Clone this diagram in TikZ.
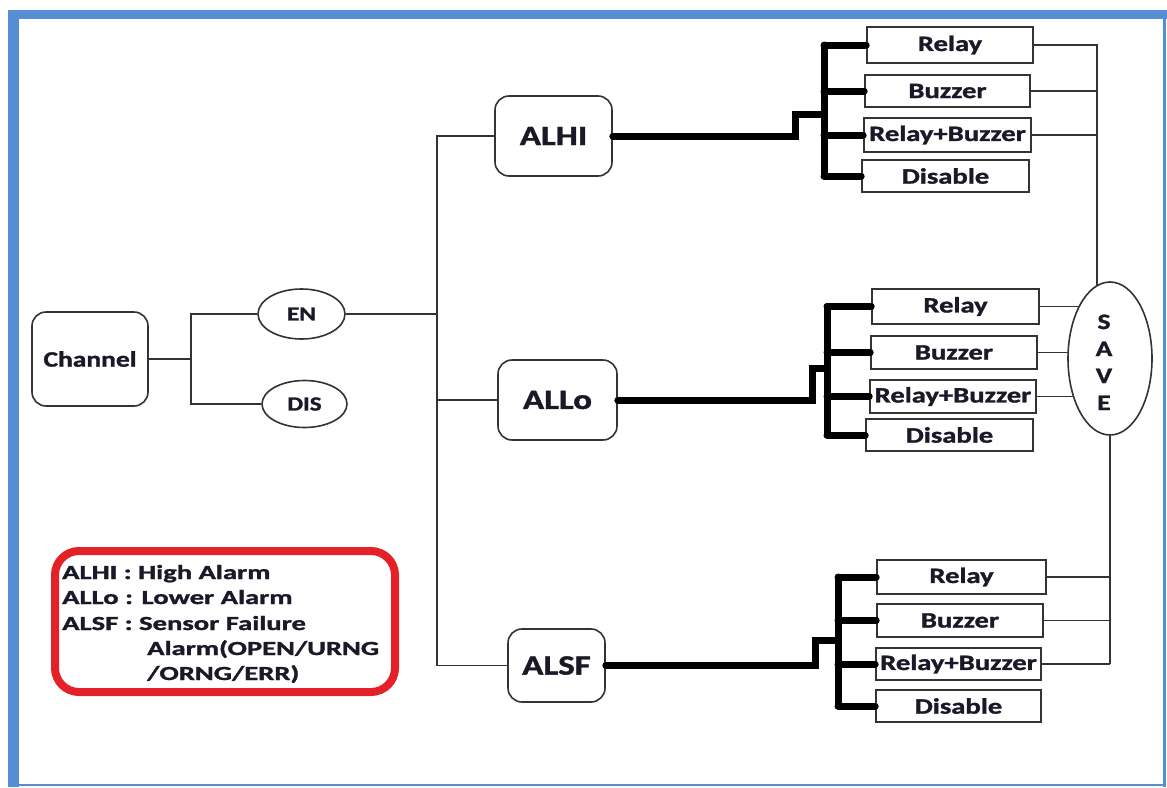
\documentclass[tikz,border=0pt]{standalone}
\usepackage{fontspec}
\setmainfont{Carlito}[BoldFeatures={FakeBold=1.2}]
\usepackage{graphicx}
\usetikzlibrary{shapes.geometric,backgrounds}
\definecolor{frameblue}{RGB}{85,142,213}
\definecolor{legred}{RGB}{228,32,40}
\definecolor{ln}{RGB}{51,51,51}
\definecolor{txt}{RGB}{25,25,40}
\newcommand{\wt}[2][1.25]{\scalebox{#1}[1]{#2}}
\begin{document}
\begin{tikzpicture}[x=1pt,y=-1pt,
  rbox/.style={draw=ln, line width=1.6pt, rounded corners=14pt, fill=white, inner sep=0pt, font=\fontsize{22}{26}\selectfont\bfseries, text=txt},
  bigtxt/.style={font=\fontsize{28}{32}\selectfont\bfseries},
  obox/.style={draw=ln, line width=1.6pt, rectangle, fill=white, inner sep=0pt, font=\fontsize{22}{26}\selectfont\bfseries, text=txt},
  oval/.style={draw=ln, line width=1.6pt, ellipse, fill=white, inner sep=0pt, font=\fontsize{20}{24}\selectfont\bfseries, text=txt},
  conn/.style={ln, line width=1.5pt},
  heavy/.style={black, line width=7pt, line cap=round, line join=miter},
  legtxt/.style={inner sep=0pt, font=\fontsize{20}{24}\selectfont\bfseries, text=txt, anchor=base west}
]
\useasboundingbox (0,0) rectangle (1167,787);
\begin{scope}[on background layer]
  \fill[white] (0,0) rectangle (1167,787);
\end{scope}

% left part
\node[rbox, minimum width=116pt, minimum height=94pt] (ch) at (90,359) {\wt{Channel}};
\node[oval, minimum width=87pt, minimum height=50pt] (en) at (301.5,314) {\wt{EN}};
\node[oval, minimum width=85pt, minimum height=47pt] (dis) at (304.5,404) {\wt{DIS}};

\node[rbox, bigtxt, minimum width=117pt, minimum height=80pt] (alhi) at (553.5,136) {\wt{ALHI}};
\node[rbox, bigtxt, minimum width=119pt, minimum height=80pt] (allo) at (557.5,400) {\wt{ALLo}};
\node[rbox, bigtxt, minimum width=97pt, minimum height=73pt] (alsf) at (556.5,665.5) {\wt{ALSF}};

% option boxes, group 1
\node[obox, minimum width=166pt, minimum height=36pt] (r1) at (950,45) {\wt[1.3]{Relay}};
\node[obox, minimum width=165pt, minimum height=32pt] (b1) at (947.5,91) {\wt[1.3]{Buzzer}};
\node[obox, minimum width=167pt, minimum height=34pt] (rb1) at (947.5,135) {\wt[1.3]{Relay+Buzzer}};
\node[obox, minimum width=167pt, minimum height=32pt] (d1) at (945.5,176) {\wt[1.3]{Disable}};
% group 2
\node[obox, minimum width=167pt, minimum height=35pt] (r2) at (955.5,306.5) {\wt[1.3]{Relay}};
\node[obox, minimum width=166pt, minimum height=33pt] (b2) at (954,352.5) {\wt[1.3]{Buzzer}};
\node[obox, minimum width=166pt, minimum height=33pt] (rb2) at (953,396.5) {\wt[1.3]{Relay+Buzzer}};
\node[obox, minimum width=167pt, minimum height=32pt] (d2) at (949.5,435) {\wt[1.3]{Disable}};
% group 3
\node[obox, minimum width=169pt, minimum height=34pt] (r3) at (961.5,577) {\wt[1.3]{Relay}};
\node[obox, minimum width=166pt, minimum height=33pt] (b3) at (960,620.5) {\wt[1.3]{Buzzer}};
\node[obox, minimum width=165pt, minimum height=32pt] (rb3) at (958.5,664) {\wt[1.3]{Relay+Buzzer}};
\node[obox, minimum width=165pt, minimum height=32pt] (d3) at (958.5,706) {\wt[1.3]{Disable}};

% SAVE
\node[oval, font=\fontsize{22}{27}\selectfont\bfseries, align=center, minimum width=84pt, minimum height=153pt] (save) at (1110,358.5)
  {\hspace*{-12pt}\rule{0pt}{22pt}\wt{S}\\\hspace*{-12pt}\wt{A}\\\hspace*{-12pt}\wt{V}\\\hspace*{-12pt}\wt{E}};

% thin connectors, left
\coordinate (s1) at (191,359);
\draw[conn] (ch.east) -- (s1);
\draw[conn] (en.west) -| (s1) |- (dis.west);
\coordinate (tk) at (437,665.5);
\draw[conn] (alhi.west) -| (tk) -- (alsf.west);
\draw[conn] (en.east) -- (en.east -| tk);
\draw[conn] (allo.west) -- (allo.west -| tk);

% heavy connectors
\coordinate (j1) at (795,114); \coordinate (k1) at (824,114);
\draw[heavy] (alhi.east) -| (j1) -- (k1);
\draw[heavy] (r1.west -| k1) -- (d1.west -| k1);
\foreach \n in {r1,b1,rb1,d1} \draw[heavy] (\n.west -| k1) -- (\n.west);

\coordinate (j2) at (812,368); \coordinate (k2) at (827,368);
\draw[heavy] (allo.east) -| (j2) -- (k2);
\draw[heavy] (r2.west -| k2) -- (d2.west -| k2);
\foreach \n in {r2,b2,rb2,d2} \draw[heavy] (\n.west -| k2) -- (\n.west);

\coordinate (j3) at (815,640); \coordinate (k3) at (838,640);
\draw[heavy] (alsf.east) -| (j3) -- (k3);
\draw[heavy] (r3.west -| k3) -- (d3.west -| k3);
\foreach \n in {r3,b3,rb3,d3} \draw[heavy] (\n.west -| k3) -- (\n.west);

% right side connectors to SAVE
\draw[conn] (r1.east) -| (save.100);
\draw[conn] (b1.east) -- (b1.east -| save.100);
\draw[conn] (rb1.east) -- (rb1.east -| save.100);
\begin{scope}[on background layer]
  \draw[conn] (r2.east) -- (r2.east -| save.center);
  \draw[conn] (b2.east) -- (b2.east -| save.center);
  \draw[conn] (rb2.east) -- (rb2.east -| save.center);
\end{scope}
\draw[conn] (save.south) -- (save.south |- rb3.east);
\draw[conn] (r3.east) -- (r3.east -| save.south);
\draw[conn] (b3.east) -- (b3.east -| save.south);
\draw[conn] (rb3.east) -- (rb3.east -| save.south);

% legend
\node[draw=legred, line width=8pt, rounded corners=24pt, minimum width=340pt, minimum height=141pt, inner sep=0pt] (legend) at (225,621.5) {};
\node[legtxt] (l1) at (62,579) {\wt[1.43]{ALHI : High Alarm}};
\node[legtxt] (l2) at (62,604) {\wt[1.43]{ALLo : Lower Alarm}};
\node[legtxt] (l3) at (62,630) {\wt[1.43]{ALSF : Sensor Failure}};
\node[legtxt] (l4) at (147,655) {\wt[1.43]{Alarm(OPEN/URNG}};
\node[legtxt] (l5) at (147,680) {\wt[1.43]{/ORNG/ERR)}};

% blue frame
\fill[frameblue] (8,10) rectangle (1167,19);
\fill[frameblue] (8,10) rectangle (19,787);
\fill[frameblue] (1163,10) rectangle (1166,787);
\fill[frameblue] (8,784) rectangle (1166,786);
\end{tikzpicture}
\end{document}
